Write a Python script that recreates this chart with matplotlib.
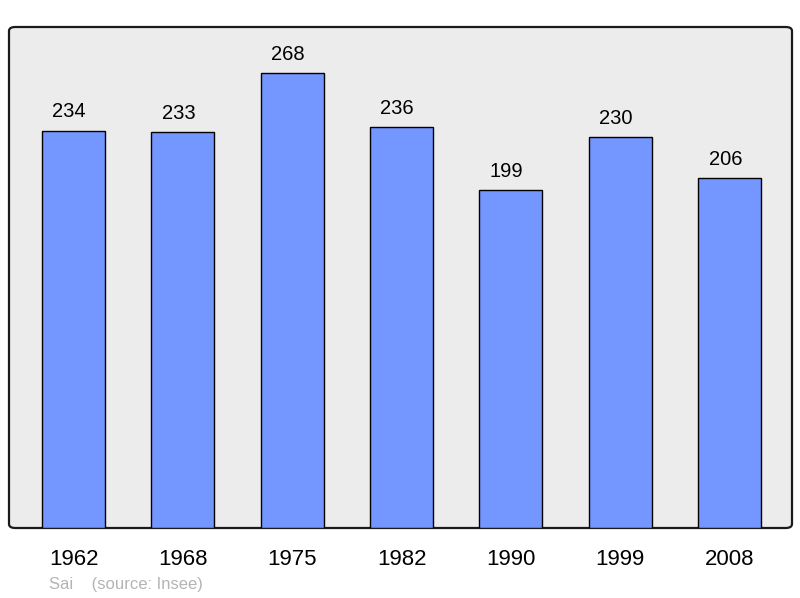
import matplotlib
matplotlib.use('Agg')
import matplotlib.pyplot as plt
from matplotlib.patches import FancyBboxPatch

years = ['1962', '1968', '1975', '1982', '1990', '1999', '2008']
population = [234, 233, 268, 236, 199, 230, 206]

plt.rcParams['font.family'] = ['Liberation Sans', 'DejaVu Sans']

fig = plt.figure(figsize=(8, 5.98), dpi=100)
ax = fig.add_axes([9 / 800, 70 / 598, 783 / 800, 501 / 598])
ax.set_facecolor('none')

# rounded frame behind the plot
frame = FancyBboxPatch((0, 0), 1, 1, boxstyle='round,pad=0,rounding_size=0.008',
                       transform=ax.transAxes, facecolor='#ececec',
                       edgecolor='#1a1a1a', linewidth=1.6, zorder=0, clip_on=False)
ax.add_patch(frame)

x = range(len(years))
ax.bar(x, population, width=0.576, color='#7396ff', edgecolor='black',
       linewidth=1.0, zorder=2)
for i, v in zip(x, population):
    ax.text(i - 0.04, v + 5.5, str(v), ha='center', va='bottom', fontsize=14.5, color='black')

ax.set_xlim(-0.59, 6.57)
ax.set_ylim(0, 295)
ax.set_yticks([])
ax.set_xticks(list(x))
ax.set_xticklabels(years, fontsize=16)
ax.tick_params(axis='x', length=0, pad=15)
for s in ax.spines.values():
    s.set_visible(False)

fig.text(49 / 800, 1 - 584 / 598, 'Sai    (source: Insee)', fontsize=12,
         color='#b4b4b4', va='center', ha='left')

fig.savefig('out.png', dpi=100)
